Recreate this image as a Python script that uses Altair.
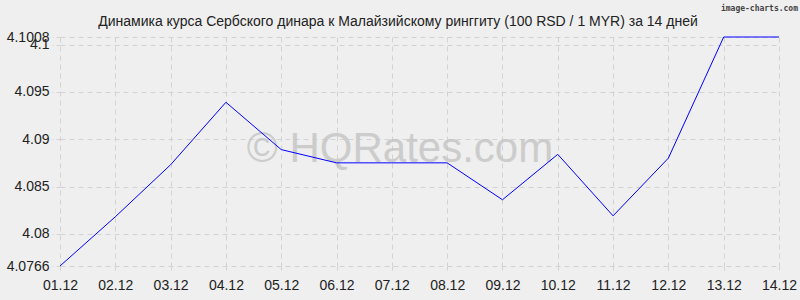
import altair as alt
import pandas as pd

dates = ["01.12", "02.12", "03.12", "04.12", "05.12", "06.12", "07.12",
         "08.12", "09.12", "10.12", "11.12", "12.12", "13.12", "14.12"]
rates = [4.0766, 4.0818, 4.0873, 4.0939, 4.0889, 4.0875, 4.0875,
         4.0875, 4.0836, 4.0884, 4.0819, 4.0880, 4.1008, 4.1008]
y_ticks = [4.0766, 4.08, 4.085, 4.09, 4.095, 4.1, 4.1008]
title_text = "Динамика курса Сербского динара к Малайзийскому ринггиту (100 RSD / 1 MYR) за 14 дней"

df = pd.DataFrame({"date": dates, "rate": rates})

W, H = 719, 229
grid_color = "#d2d2d2"
FONT = "Arial, Liberation Sans, sans-serif"

base = alt.Chart(df)

line = base.mark_line(color="#0000ff", strokeWidth=1).encode(
    x=alt.X("date:O", sort=dates,
            scale=alt.Scale(type="point", padding=0),
            axis=alt.Axis(title=None, labelAngle=0, grid=True, gridDash=[5, 4],
                          gridColor=grid_color, domain=False, tickColor=grid_color,
                          tickDash=[4, 3], tickSize=7, labelPadding=5,
                          labelFontSize=14, labelFont=FONT, labelOverlap=False,
                          labelColor="#222222")),
    y=alt.Y("rate:Q",
            scale=alt.Scale(domain=[4.0766, 4.1008], nice=False, zero=False),
            axis=alt.Axis(title=None, values=y_ticks, format=".4~f", grid=True,
                          gridDash=[5, 4], gridColor=grid_color, domain=False,
                          tickColor=grid_color, tickDash=[4, 3], tickSize=8,
                          labelPadding=3, labelFontSize=14, labelOverlap=False,
                          labelFont=FONT, labelColor="#222222")),
)

watermark = alt.Chart(pd.DataFrame({"t": ["© HQRates.com"]})).mark_text(
    fontSize=42, font=FONT, color="#c4c4c4", opacity=0.8,
    align="center", baseline="alphabetic"
).encode(text="t:N", x=alt.value(400 - 60), y=alt.value(162 - 37))

title = alt.Chart(pd.DataFrame({"t": [title_text]})).mark_text(
    fontSize=14, font=FONT, color="#222222",
    align="center", baseline="alphabetic"
).encode(text="t:N", x=alt.value(398 - 60), y=alt.value(26 - 37))

credit = alt.Chart(pd.DataFrame({"t": ["image-charts.com"]})).mark_text(
    fontSize=8, font="DejaVu Sans Mono", fontWeight="bold", color="#444444",
    align="right", baseline="alphabetic"
).encode(text="t:N", x=alt.value(798 - 60), y=alt.value(11 - 37))

chart = alt.layer(watermark, line, title, credit).properties(
    width=W, height=H,
    background="#efefef",
    padding={"left": 60, "top": 37, "right": 21, "bottom": 34},
    autosize=alt.AutoSizeParams(type="none"),
).configure_view(stroke=None)

chart.save("out.html", embed_options={"renderer": "svg", "actions": False})
